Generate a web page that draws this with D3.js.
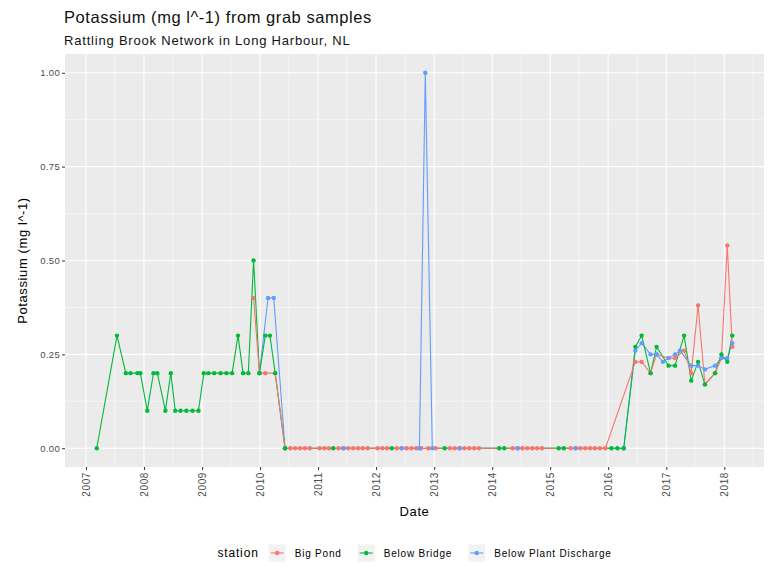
<!DOCTYPE html>
<html>
<head>
<meta charset="utf-8">
<title>Potassium grab samples</title>
<script src="https://cdn.jsdelivr.net/npm/d3@7"></script>
<style>
  body { margin: 0; background: #fff; }
  text { font-family: "Liberation Sans", Arial, sans-serif; }
</style>
</head>
<body>
<svg width="769" height="565"></svg>
<script>
// stations and their colours (ggplot default hue palette)
var stations = ["Big Pond", "Below Bridge", "Below Plant Discharge"];
var stationColors = ["#F8766D", "#00BA38", "#619CFF"];

// Big Pond
var bigPondDates = ["2009-11-21","2009-12-28","2010-02-03","2010-04-06","2010-06-07",
  "2010-07-10","2010-08-10","2010-09-10","2010-10-10","2010-11-10","2011-01-10","2011-02-10","2011-03-10",
  "2011-05-10","2011-06-10","2011-07-10","2011-08-10","2011-09-10","2011-10-10","2011-11-10",
  "2012-01-10","2012-02-10","2012-03-10","2012-05-10","2012-06-10","2012-07-10","2012-08-10","2012-09-10",
  "2012-10-10","2012-11-25","2013-01-10","2013-04-10","2013-05-10","2013-06-10","2013-07-10","2013-08-10",
  "2013-09-10","2013-10-10","2014-05-10","2014-06-10","2014-07-10","2014-08-10","2014-09-10","2014-10-10",
  "2014-11-10","2015-05-10","2015-06-10","2015-07-10","2015-08-10","2015-09-10","2015-10-10","2015-11-10",
  "2015-12-15","2016-06-20","2016-07-30","2016-09-24","2016-11-01","2017-01-15","2017-02-25","2017-04-23",
  "2017-06-07","2017-07-20","2017-09-01","2017-11-04","2017-12-14","2018-01-20","2018-02-20"];
var bigPondValues = [0.4,0.2,0.2,0.2,0,
  0,0,0,0,0,0,0,0,
  0,0,0,0,0,0,0,
  0,0,0,0,0,0,0,0,
  0,0,0,0,0,0,0,0,
  0,0,0,0,0,0,0,0,
  0,0,0,0,0,0,0,0,
  0,0.23,0.23,0.2,0.25,0.24,0.24,0.26,
  0.2,0.38,0.17,0.2,0.24,0.54,0.27];

// Below Bridge
var bridgeDates = ["2007-03-10","2007-07-15","2007-09-09","2007-10-08","2007-11-21","2007-12-09",
  "2008-01-22","2008-03-01","2008-03-25","2008-05-15","2008-06-18","2008-07-16","2008-08-18","2008-09-24",
  "2008-11-02","2008-12-09","2009-01-12","2009-02-10","2009-03-18","2009-04-27","2009-06-03","2009-07-09",
  "2009-08-15","2009-09-16","2009-10-19","2009-11-21","2009-12-28","2010-02-03","2010-03-04","2010-04-06",
  "2010-06-07","2011-04-06","2012-04-09","2013-03-08","2014-02-14","2014-03-18","2015-02-24","2015-03-28",
  "2016-01-22","2016-02-28","2016-04-08","2016-06-20","2016-07-30","2016-09-24","2016-11-01","2017-01-15",
  "2017-02-25","2017-04-23","2017-06-07","2017-07-20","2017-09-01","2017-11-04","2017-12-14","2018-01-20",
  "2018-02-20"];
var bridgeValues = [0,0.3,0.2,0.2,0.2,0.2,
  0.1,0.2,0.2,0.1,0.2,0.1,0.1,0.1,
  0.1,0.1,0.2,0.2,0.2,0.2,0.2,0.2,
  0.3,0.2,0.2,0.5,0.2,0.3,0.3,0.2,
  0,0,0,0,0,0,0,0,
  0,0,0,0.27,0.3,0.2,0.27,0.22,
  0.22,0.3,0.18,0.23,0.17,0.2,0.25,0.23,
  0.3];

// Below Plant Discharge
var plantDates = ["2009-12-28","2010-02-20","2010-03-28","2010-06-07","2011-06-10","2012-06-10",
  "2012-09-30","2012-11-06","2012-12-20","2013-06-10","2014-06-10","2015-06-10","2016-04-08",
  "2016-06-20","2016-07-30","2016-09-24","2016-11-01","2016-12-10","2017-01-15","2017-02-25",
  "2017-03-28","2017-06-07","2017-07-20","2017-09-01","2017-11-04","2017-12-14","2018-01-20","2018-02-20"];
var plantValues = [0.2,0.4,0.4,0,0,0,
  0,1.0,0,0,0,0,0,
  0.26,0.28,0.25,0.25,0.23,0.24,0.25,
  0.26,0.22,0.22,0.21,0.22,0.24,0.24,0.28];

var yTicks = [0, 0.25, 0.5, 0.75, 1];
var yMinor = [0.125, 0.375, 0.625, 0.875];

var parse = d3.timeParse("%Y-%m-%d");
function makeSeries(dates, values) {
  return dates.map(function(d, i){ return {date: parse(d), value: values[i]}; });
}
var series = [
  makeSeries(bigPondDates, bigPondValues),
  makeSeries(bridgeDates, bridgeValues),
  makeSeries(plantDates, plantValues)
];

var svg = d3.select("svg");
var panel = {left: 65, right: 764, top: 54, bottom: 467};

// scales with ggplot's 5% expansion
var allPts = d3.merge(series);
var ext = d3.extent(allPts, function(d){ return +d.date; });
var pad = (ext[1] - ext[0]) * 0.05;
var x = d3.scaleTime()
  .domain([new Date(ext[0] - pad), new Date(ext[1] + pad)])
  .range([panel.left, panel.right]);
var y = d3.scaleLinear()
  .domain([-0.05, 1.05])
  .range([panel.bottom, panel.top]);

// panel background
svg.append("rect")
  .attr("x", panel.left).attr("y", panel.top)
  .attr("width", panel.right - panel.left).attr("height", panel.bottom - panel.top)
  .attr("fill", "#EBEBEB");

var grid = svg.append("g");
var years = d3.timeYear.range(new Date(2007, 0, 1), new Date(2019, 0, 1));
var halfYears = d3.timeYear.range(new Date(2006, 0, 1), new Date(2019, 0, 1))
  .map(function(d){ return d3.timeMonth.offset(d, 6); })
  .filter(function(d){ return x(d) > panel.left && x(d) < panel.right; });

grid.selectAll(".yminor").data(yMinor).enter().append("line")
  .attr("x1", panel.left).attr("x2", panel.right)
  .attr("y1", function(d){ return y(d); }).attr("y2", function(d){ return y(d); })
  .attr("stroke", "#fff").attr("stroke-width", 0.5);
grid.selectAll(".xminor").data(halfYears).enter().append("line")
  .attr("y1", panel.top).attr("y2", panel.bottom)
  .attr("x1", function(d){ return x(d); }).attr("x2", function(d){ return x(d); })
  .attr("stroke", "#fff").attr("stroke-width", 0.5);
grid.selectAll(".ymajor").data(yTicks).enter().append("line")
  .attr("x1", panel.left).attr("x2", panel.right)
  .attr("y1", function(d){ return y(d); }).attr("y2", function(d){ return y(d); })
  .attr("stroke", "#fff").attr("stroke-width", 1.1);
grid.selectAll(".xmajor").data(years).enter().append("line")
  .attr("y1", panel.top).attr("y2", panel.bottom)
  .attr("x1", function(d){ return x(d); }).attr("x2", function(d){ return x(d); })
  .attr("stroke", "#fff").attr("stroke-width", 1.1);

// lines: blue first, then green, red last
var line = d3.line().x(function(d){ return x(d.date); }).y(function(d){ return y(d.value); });
[2, 1, 0].forEach(function(i){
  svg.append("path").datum(series[i])
    .attr("d", line)
    .attr("fill", "none")
    .attr("stroke", stationColors[i])
    .attr("stroke-width", 1.1);
});
[0, 2, 1].forEach(function(i){
  svg.append("g").selectAll("circle").data(series[i]).enter().append("circle")
    .attr("cx", function(d){ return x(d.date); })
    .attr("cy", function(d){ return y(d.value); })
    .attr("r", 2.2)
    .attr("fill", stationColors[i]);
});

// axes
var yAxis = svg.append("g")
  .attr("transform", "translate(" + panel.left + ",0)")
  .call(d3.axisLeft(y).tickValues(yTicks).tickFormat(d3.format(".2f")).tickSize(3).tickPadding(2));
yAxis.select(".domain").remove();
yAxis.selectAll("line").attr("stroke", "#333");
yAxis.selectAll("text").attr("fill", "#4d4d4d").style("font-size", "9.5px")
  .style("letter-spacing", "0.3px")
  .style("font-family", "'Liberation Sans', Arial, sans-serif");

var xAxis = svg.append("g")
  .attr("transform", "translate(0," + panel.bottom + ")")
  .call(d3.axisBottom(x).tickValues(years).tickFormat(d3.timeFormat("%Y")).tickSize(3));
xAxis.select(".domain").remove();
xAxis.selectAll("line").attr("stroke", "#333");
xAxis.selectAll("text")
  .attr("fill", "#4d4d4d").style("font-size", "10px")
  .style("letter-spacing", "0.6px")
  .style("font-family", "'Liberation Sans', Arial, sans-serif")
  .attr("transform", "rotate(-90)")
  .attr("text-anchor", "end")
  .attr("x", -5).attr("y", 0).attr("dy", "0.35em");

// titles
svg.append("text").attr("x", panel.left - 1).attr("y", 23)
  .attr("font-size", 16.5).attr("letter-spacing", 0.55).attr("fill", "#111")
  .text("Potassium (mg l^-1) from grab samples");
svg.append("text").attr("x", panel.left - 1).attr("y", 45)
  .attr("font-size", 13).attr("letter-spacing", 0.8).attr("fill", "#111")
  .text("Rattling Brook Network in Long Harbour, NL");
svg.append("text")
  .attr("transform", "translate(27," + ((panel.top + panel.bottom) / 2) + ") rotate(-90)")
  .attr("text-anchor", "middle").attr("font-size", 13).attr("letter-spacing", 0.6).attr("fill", "#000")
  .text("Potassium (mg l^-1)");
svg.append("text").attr("x", (panel.left + panel.right) / 2).attr("y", 516)
  .attr("text-anchor", "middle").attr("font-size", 13).attr("letter-spacing", 0.6).attr("fill", "#000")
  .text("Date");

// legend along the bottom, centred on the panel
var legend = svg.append("g");
var ly = 553;
var cursor = 0;
var title = legend.append("text").attr("x", cursor).attr("y", ly).attr("dy", "0.35em")
  .attr("font-size", 12).attr("letter-spacing", 0.85).text("station");
cursor += title.node().getComputedTextLength() + 10;
stations.forEach(function(s, i){
  var k = legend.append("g").attr("transform", "translate(" + cursor + "," + (ly - 8.5) + ")");
  k.append("rect").attr("width", 17).attr("height", 17).attr("fill", "#F2F2F2");
  k.append("line").attr("x1", 2).attr("x2", 15).attr("y1", 8.5).attr("y2", 8.5)
    .attr("stroke", stationColors[i]).attr("stroke-width", 1.1);
  k.append("circle").attr("cx", 8.5).attr("cy", 8.5).attr("r", 2.2).attr("fill", stationColors[i]);
  cursor += 17 + 9;
  var t = legend.append("text").attr("x", cursor).attr("y", ly).attr("dy", "0.35em")
    .attr("font-size", 10).attr("letter-spacing", 0.8).attr("fill", "#000").text(s);
  cursor += t.node().getComputedTextLength() + 16;
});
cursor -= 16;
legend.attr("transform", "translate(" + ((panel.left + panel.right) / 2 - cursor / 2) + ",0)");
</script>
</body>
</html>
